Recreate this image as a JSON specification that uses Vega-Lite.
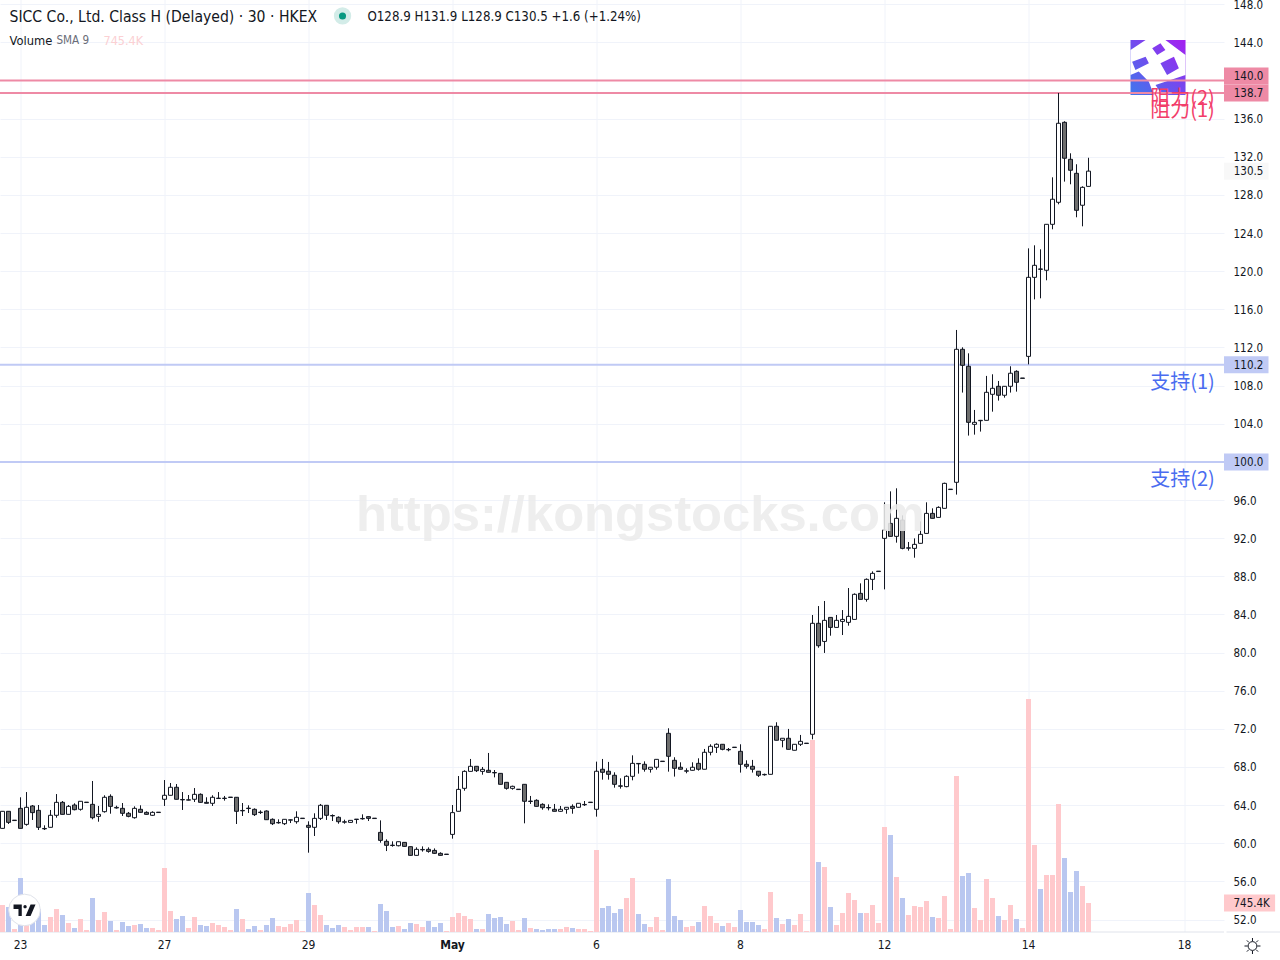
{"$schema":"https://vega.github.io/schema/vega-lite/v6.json","width":1224,"height":932,"autosize":"none","padding":{"left":0,"top":0,"right":56,"bottom":28},"background":"#ffffff","config":{"view":{"stroke":null},"font":"DejaVu Sans Condensed"},
"datasets":{"bars":[
{"i":0,"o":61.56,"h":63.35,"l":61.56,"c":63.35,"v":694,"d":"u"},{"i":1,"o":63.35,"h":63.35,"l":62.02,"c":62.19,"v":643,"d":"d"},{"i":2,"o":62.38,"h":62.42,"l":62.38,"c":62.42,"v":77,"d":"u"},{"i":3,"o":63.66,"h":64.82,"l":61.56,"c":61.56,"v":1388,"d":"d"},{"i":4,"o":61.98,"h":65.37,"l":61.84,"c":63.77,"v":180,"d":"u"},{"i":5,"o":63.91,"h":64.01,"l":62.44,"c":63.21,"v":437,"d":"d"},{"i":6,"o":63.45,"h":64.01,"l":61.39,"c":61.67,"v":591,"d":"d"},{"i":7,"o":61.55,"h":61.88,"l":61.39,"c":61.51,"v":180,"d":"d"},{"i":8,"o":61.67,"h":63.49,"l":61.67,"c":62.93,"v":386,"d":"u"},{"i":9,"o":62.93,"h":65.16,"l":62.68,"c":64.29,"v":591,"d":"u"},
{"i":10,"o":64.29,"h":64.43,"l":63.03,"c":63.03,"v":437,"d":"d"},{"i":11,"o":63.03,"h":64.01,"l":63.03,"c":63.87,"v":231,"d":"u"},{"i":12,"o":64.01,"h":64.19,"l":63.45,"c":63.52,"v":103,"d":"d"},{"i":13,"o":63.56,"h":64.4,"l":63.42,"c":64.4,"v":334,"d":"u"},{"i":14,"o":64.27,"h":64.31,"l":64.27,"c":64.31,"v":51,"d":"u"},{"i":15,"o":64.08,"h":66.53,"l":62.51,"c":62.68,"v":874,"d":"d"},{"i":16,"o":62.82,"h":63.91,"l":62.26,"c":63.03,"v":308,"d":"u"},{"i":17,"o":63.31,"h":65.03,"l":63.21,"c":64.82,"v":514,"d":"u"},{"i":18,"o":64.92,"h":65.13,"l":63.1,"c":63.87,"v":283,"d":"d"},{"i":19,"o":63.7,"h":63.94,"l":63.63,"c":63.76,"v":51,"d":"u"},
{"i":20,"o":63.66,"h":64.22,"l":62.86,"c":63.14,"v":257,"d":"d"},{"i":21,"o":63.14,"h":63.28,"l":62.72,"c":62.82,"v":154,"d":"d"},{"i":22,"o":62.68,"h":63.87,"l":62.58,"c":63.66,"v":180,"d":"u"},{"i":23,"o":63.56,"h":63.98,"l":63.21,"c":63.24,"v":206,"d":"d"},{"i":24,"o":63.24,"h":63.35,"l":63.0,"c":63.03,"v":103,"d":"d"},{"i":25,"o":62.93,"h":63.35,"l":62.86,"c":63.24,"v":103,"d":"u"},{"i":26,"o":63.22,"h":63.26,"l":63.22,"c":63.26,"v":51,"d":"u"},{"i":27,"o":64.61,"h":66.63,"l":63.91,"c":65.03,"v":1645,"d":"u"},{"i":28,"o":65.03,"h":66.32,"l":65.03,"c":65.87,"v":540,"d":"u"},{"i":29,"o":65.87,"h":66.21,"l":64.61,"c":64.61,"v":334,"d":"d"},
{"i":30,"o":64.59,"h":65.37,"l":63.49,"c":64.55,"v":411,"d":"d"},{"i":31,"o":64.52,"h":65.06,"l":64.5,"c":64.56,"v":103,"d":"u"},{"i":32,"o":64.61,"h":65.79,"l":64.33,"c":65.13,"v":386,"d":"u"},{"i":33,"o":65.13,"h":65.23,"l":64.26,"c":64.29,"v":180,"d":"d"},{"i":34,"o":64.29,"h":64.82,"l":64.19,"c":64.19,"v":154,"d":"d"},{"i":35,"o":64.19,"h":65.03,"l":63.91,"c":64.82,"v":231,"d":"u"},{"i":36,"o":64.69,"h":65.37,"l":64.68,"c":64.73,"v":180,"d":"u"},{"i":37,"o":64.69,"h":64.96,"l":64.47,"c":64.73,"v":129,"d":"u"},{"i":38,"o":64.8,"h":64.84,"l":64.8,"c":64.84,"v":51,"d":"u"},{"i":39,"o":64.82,"h":64.82,"l":62.02,"c":63.35,"v":591,"d":"d"},
{"i":40,"o":63.4,"h":64.22,"l":62.86,"c":63.44,"v":334,"d":"u"},{"i":41,"o":63.68,"h":63.98,"l":63.17,"c":63.64,"v":77,"d":"d"},{"i":42,"o":63.56,"h":63.66,"l":62.86,"c":63.0,"v":154,"d":"d"},{"i":43,"o":63.22,"h":63.45,"l":63.07,"c":63.26,"v":51,"d":"u"},{"i":44,"o":63.38,"h":63.45,"l":62.47,"c":62.47,"v":180,"d":"d"},{"i":45,"o":62.51,"h":62.61,"l":61.91,"c":62.05,"v":360,"d":"d"},{"i":46,"o":62.14,"h":62.51,"l":62.05,"c":62.18,"v":154,"d":"u"},{"i":47,"o":62.05,"h":62.51,"l":61.91,"c":62.51,"v":129,"d":"u"},{"i":48,"o":62.42,"h":62.51,"l":62.12,"c":62.46,"v":206,"d":"u"},{"i":49,"o":62.26,"h":63.35,"l":62.05,"c":62.72,"v":308,"d":"u"},
{"i":50,"o":62.59,"h":62.63,"l":62.59,"c":62.63,"v":26,"d":"u"},{"i":51,"o":61.88,"h":62.3,"l":59.01,"c":61.67,"v":1002,"d":"d"},{"i":52,"o":61.67,"h":63.14,"l":60.76,"c":62.61,"v":694,"d":"u"},{"i":53,"o":62.61,"h":64.12,"l":62.44,"c":63.98,"v":437,"d":"u"},{"i":54,"o":63.98,"h":63.98,"l":62.44,"c":62.93,"v":180,"d":"d"},{"i":55,"o":62.91,"h":63.03,"l":62.33,"c":62.87,"v":103,"d":"d"},{"i":56,"o":62.72,"h":62.82,"l":62.05,"c":62.26,"v":180,"d":"d"},{"i":57,"o":62.21,"h":62.47,"l":62.05,"c":62.25,"v":129,"d":"u"},{"i":58,"o":62.19,"h":62.4,"l":62.16,"c":62.4,"v":51,"d":"u"},{"i":59,"o":62.49,"h":62.53,"l":62.05,"c":62.53,"v":129,"d":"u"},
{"i":60,"o":62.56,"h":63.03,"l":62.47,"c":62.6,"v":129,"d":"u"},{"i":61,"o":62.79,"h":62.82,"l":62.33,"c":62.61,"v":129,"d":"d"},{"i":62,"o":62.59,"h":62.63,"l":62.59,"c":62.63,"v":26,"d":"u"},{"i":63,"o":61.14,"h":62.4,"l":60.06,"c":60.3,"v":720,"d":"d"},{"i":64,"o":60.2,"h":60.41,"l":59.18,"c":59.78,"v":540,"d":"d"},{"i":65,"o":59.8,"h":60.2,"l":59.64,"c":59.76,"v":129,"d":"d"},{"i":66,"o":59.74,"h":60.16,"l":59.67,"c":60.16,"v":154,"d":"u"},{"i":67,"o":60.09,"h":60.09,"l":59.64,"c":59.67,"v":77,"d":"d"},{"i":68,"o":59.64,"h":59.64,"l":58.7,"c":58.73,"v":231,"d":"d"},{"i":69,"o":58.73,"h":59.57,"l":58.7,"c":59.36,"v":206,"d":"u"},
{"i":70,"o":59.31,"h":59.67,"l":59.12,"c":59.35,"v":129,"d":"u"},{"i":71,"o":59.36,"h":59.57,"l":59.01,"c":59.15,"v":283,"d":"d"},{"i":72,"o":59.25,"h":59.46,"l":58.87,"c":58.94,"v":129,"d":"d"},{"i":73,"o":58.94,"h":59.05,"l":58.7,"c":58.73,"v":231,"d":"d"},{"i":74,"o":58.82,"h":58.86,"l":58.82,"c":58.86,"v":26,"d":"u"},{"i":75,"o":60.93,"h":64.01,"l":60.48,"c":63.21,"v":386,"d":"u"},{"i":76,"o":63.35,"h":67.05,"l":63.35,"c":65.65,"v":488,"d":"u"},{"i":77,"o":65.76,"h":67.65,"l":65.51,"c":67.54,"v":411,"d":"u"},{"i":78,"o":67.54,"h":68.84,"l":67.54,"c":68.07,"v":334,"d":"u"},{"i":79,"o":68.07,"h":68.07,"l":67.47,"c":67.61,"v":77,"d":"d"},
{"i":80,"o":67.54,"h":68.0,"l":67.19,"c":67.75,"v":77,"d":"u"},{"i":81,"o":67.65,"h":69.47,"l":67.44,"c":67.44,"v":463,"d":"d"},{"i":82,"o":67.42,"h":67.68,"l":66.91,"c":67.38,"v":360,"d":"d"},{"i":83,"o":67.33,"h":67.33,"l":66.18,"c":66.18,"v":386,"d":"d"},{"i":84,"o":66.39,"h":66.39,"l":65.62,"c":65.76,"v":206,"d":"d"},{"i":85,"o":65.76,"h":66.04,"l":65.62,"c":65.97,"v":283,"d":"u"},{"i":86,"o":65.63,"h":65.67,"l":65.63,"c":65.67,"v":51,"d":"u"},{"i":87,"o":66.18,"h":66.18,"l":62.09,"c":64.4,"v":360,"d":"d"},{"i":88,"o":64.38,"h":64.96,"l":64.12,"c":64.42,"v":103,"d":"u"},{"i":89,"o":64.5,"h":64.61,"l":63.87,"c":63.87,"v":77,"d":"d"},
{"i":90,"o":64.08,"h":64.19,"l":63.52,"c":63.73,"v":51,"d":"d"},{"i":91,"o":63.75,"h":64.08,"l":63.45,"c":63.71,"v":77,"d":"d"},{"i":92,"o":63.56,"h":64.12,"l":63.35,"c":63.35,"v":77,"d":"d"},{"i":93,"o":63.35,"h":63.91,"l":63.31,"c":63.56,"v":77,"d":"u"},{"i":94,"o":63.56,"h":63.77,"l":63.1,"c":63.77,"v":129,"d":"u"},{"i":95,"o":63.87,"h":64.08,"l":63.1,"c":63.66,"v":103,"d":"d"},{"i":96,"o":63.77,"h":64.19,"l":63.73,"c":64.19,"v":77,"d":"u"},{"i":97,"o":64.03,"h":64.43,"l":63.91,"c":64.07,"v":77,"d":"u"},{"i":98,"o":64.27,"h":64.31,"l":64.27,"c":64.31,"v":26,"d":"u"},{"i":99,"o":63.56,"h":68.56,"l":62.79,"c":67.55,"v":2107,"d":"u"},
{"i":100,"o":67.76,"h":68.84,"l":66.67,"c":67.44,"v":617,"d":"d"},{"i":101,"o":67.55,"h":68.53,"l":66.67,"c":67.23,"v":668,"d":"d"},{"i":102,"o":67.13,"h":67.44,"l":65.83,"c":66.18,"v":488,"d":"d"},{"i":103,"o":66.02,"h":66.81,"l":65.73,"c":65.98,"v":591,"d":"d"},{"i":104,"o":65.94,"h":67.13,"l":65.87,"c":67.02,"v":874,"d":"u"},{"i":105,"o":67.02,"h":69.22,"l":66.6,"c":68.38,"v":1388,"d":"u"},{"i":106,"o":68.37,"h":68.42,"l":67.3,"c":68.33,"v":463,"d":"d"},{"i":107,"o":68.28,"h":68.59,"l":67.51,"c":67.76,"v":206,"d":"d"},{"i":108,"o":67.76,"h":67.97,"l":67.41,"c":67.97,"v":129,"d":"u"},{"i":109,"o":67.97,"h":68.8,"l":67.72,"c":68.8,"v":386,"d":"u"},
{"i":110,"o":68.57,"h":68.61,"l":68.57,"c":68.61,"v":51,"d":"u"},{"i":111,"o":71.53,"h":72.06,"l":67.51,"c":69.12,"v":1362,"d":"d"},{"i":112,"o":68.7,"h":69.02,"l":66.99,"c":67.86,"v":411,"d":"d"},{"i":113,"o":67.97,"h":68.49,"l":67.76,"c":67.76,"v":308,"d":"d"},{"i":114,"o":67.56,"h":67.86,"l":67.34,"c":67.6,"v":129,"d":"u"},{"i":115,"o":67.65,"h":68.49,"l":67.62,"c":67.97,"v":154,"d":"u"},{"i":116,"o":68.38,"h":68.91,"l":67.62,"c":67.76,"v":257,"d":"d"},{"i":117,"o":67.76,"h":69.89,"l":67.76,"c":69.54,"v":668,"d":"u"},{"i":118,"o":69.54,"h":70.38,"l":69.22,"c":70.17,"v":411,"d":"u"},{"i":119,"o":70.06,"h":70.48,"l":69.47,"c":70.38,"v":231,"d":"u"},
{"i":120,"o":70.38,"h":70.38,"l":69.75,"c":69.85,"v":154,"d":"d"},{"i":121,"o":69.8,"h":69.99,"l":69.64,"c":69.84,"v":231,"d":"u"},{"i":122,"o":70.04,"h":70.08,"l":70.04,"c":70.08,"v":129,"d":"u"},{"i":123,"o":69.64,"h":70.38,"l":67.41,"c":68.28,"v":565,"d":"d"},{"i":124,"o":68.28,"h":68.7,"l":67.83,"c":68.07,"v":257,"d":"d"},{"i":125,"o":68.07,"h":68.74,"l":67.41,"c":67.76,"v":257,"d":"d"},{"i":126,"o":67.55,"h":67.55,"l":66.95,"c":67.13,"v":180,"d":"d"},{"i":127,"o":67.18,"h":67.3,"l":67.09,"c":67.22,"v":77,"d":"u"},{"i":128,"o":67.23,"h":72.27,"l":67.23,"c":72.27,"v":1028,"d":"u"},{"i":129,"o":72.27,"h":72.69,"l":70.8,"c":70.8,"v":360,"d":"d"},
{"i":130,"o":70.8,"h":71.01,"l":70.06,"c":71.01,"v":206,"d":"u"},{"i":131,"o":71.01,"h":71.99,"l":69.85,"c":69.85,"v":334,"d":"d"},{"i":132,"o":69.75,"h":70.38,"l":69.75,"c":70.38,"v":180,"d":"u"},{"i":133,"o":70.38,"h":71.36,"l":70.2,"c":70.69,"v":463,"d":"u"},{"i":134,"o":70.46,"h":70.5,"l":70.46,"c":70.5,"v":26,"d":"u"},{"i":135,"o":71.43,"h":83.94,"l":70.9,"c":83.07,"v":4934,"d":"u"},{"i":136,"o":83.07,"h":84.88,"l":80.51,"c":80.72,"v":1799,"d":"d"},{"i":137,"o":81.17,"h":85.41,"l":79.96,"c":83.38,"v":1671,"d":"u"},{"i":138,"o":83.69,"h":83.69,"l":81.77,"c":82.64,"v":643,"d":"d"},{"i":139,"o":82.64,"h":83.94,"l":82.64,"c":83.38,"v":180,"d":"u"},
{"i":140,"o":83.27,"h":84.46,"l":81.84,"c":83.48,"v":488,"d":"u"},{"i":141,"o":83.17,"h":86.77,"l":82.82,"c":83.8,"v":1002,"d":"u"},{"i":142,"o":83.48,"h":86.21,"l":83.48,"c":86.11,"v":822,"d":"u"},{"i":143,"o":86.21,"h":87.26,"l":85.58,"c":85.58,"v":488,"d":"d"},{"i":144,"o":85.58,"h":87.78,"l":85.34,"c":87.68,"v":488,"d":"u"},{"i":145,"o":87.68,"h":88.52,"l":86.56,"c":88.31,"v":694,"d":"u"},{"i":146,"o":88.5,"h":88.54,"l":88.5,"c":88.54,"v":231,"d":"u"},{"i":147,"o":91.98,"h":95.76,"l":86.63,"c":92.85,"v":2699,"d":"u"},{"i":148,"o":93.55,"h":96.91,"l":92.19,"c":92.19,"v":2493,"d":"d"},{"i":149,"o":92.19,"h":97.23,"l":91.53,"c":94.08,"v":1414,"d":"u"},
{"i":150,"o":93.9,"h":94.39,"l":90.83,"c":90.93,"v":874,"d":"d"},{"i":151,"o":90.95,"h":91.6,"l":90.69,"c":90.99,"v":437,"d":"u"},{"i":152,"o":90.93,"h":91.98,"l":89.95,"c":91.35,"v":668,"d":"u"},{"i":153,"o":91.46,"h":93.76,"l":91.46,"c":92.4,"v":643,"d":"u"},{"i":154,"o":92.5,"h":95.76,"l":92.5,"c":94.6,"v":797,"d":"u"},{"i":155,"o":94.6,"h":95.13,"l":94.08,"c":94.08,"v":386,"d":"d"},{"i":156,"o":94.18,"h":95.34,"l":94.18,"c":95.23,"v":360,"d":"u"},{"i":157,"o":95.13,"h":97.82,"l":95.13,"c":97.75,"v":925,"d":"u"},{"i":158,"o":97.1,"h":97.14,"l":97.1,"c":97.14,"v":77,"d":"u"},{"i":159,"o":97.86,"h":113.84,"l":96.57,"c":111.81,"v":4009,"d":"u"},
{"i":160,"o":111.81,"h":112.02,"l":107.27,"c":110.13,"v":1439,"d":"d"},{"i":161,"o":110.03,"h":111.39,"l":102.76,"c":104.15,"v":1516,"d":"d"},{"i":162,"o":103.94,"h":105.45,"l":102.86,"c":104.15,"v":617,"d":"u"},{"i":163,"o":104.32,"h":104.4,"l":103.18,"c":104.36,"v":308,"d":"u"},{"i":164,"o":104.36,"h":109.02,"l":104.36,"c":107.3,"v":1362,"d":"u"},{"i":165,"o":107.09,"h":109.19,"l":105.27,"c":107.72,"v":874,"d":"u"},{"i":166,"o":107.93,"h":108.49,"l":106.43,"c":106.99,"v":411,"d":"d"},{"i":167,"o":106.99,"h":107.93,"l":106.74,"c":107.93,"v":308,"d":"u"},{"i":168,"o":107.93,"h":110.03,"l":107.27,"c":109.3,"v":694,"d":"u"},{"i":169,"o":109.5,"h":109.61,"l":107.37,"c":108.35,"v":334,"d":"d"},
{"i":170,"o":108.76,"h":108.8,"l":108.76,"c":108.8,"v":103,"d":"u"},{"i":171,"o":111.07,"h":122.4,"l":110.23,"c":119.36,"v":5988,"d":"u"},{"i":172,"o":119.36,"h":122.72,"l":117.05,"c":120.62,"v":2236,"d":"u"},{"i":173,"o":120.24,"h":122.3,"l":117.16,"c":120.2,"v":1105,"d":"d"},{"i":174,"o":120.1,"h":124.92,"l":119.05,"c":124.92,"v":1465,"d":"u"},{"i":175,"o":124.92,"h":129.85,"l":124.4,"c":127.55,"v":1465,"d":"u"},{"i":176,"o":127.23,"h":138.7,"l":127.02,"c":135.52,"v":3290,"d":"u"},{"i":177,"o":135.62,"h":135.73,"l":129.4,"c":131.85,"v":1902,"d":"d"},{"i":178,"o":131.74,"h":132.37,"l":129.12,"c":130.59,"v":1028,"d":"d"},{"i":179,"o":130.27,"h":131.22,"l":125.66,"c":126.39,"v":1568,"d":"d"},
{"i":180,"o":126.92,"h":128.91,"l":124.71,"c":128.8,"v":1182,"d":"u"},{"i":181,"o":128.9,"h":131.9,"l":128.9,"c":130.5,"v":745.4,"d":"u"}],
"levels":[{"i":0,"c":140.0,"v":0,"kind":"r","name":"阻力(2)"},{"i":0,"c":138.7,"v":0,"kind":"r","name":"阻力(1)"},{"i":0,"c":110.2,"v":0,"kind":"s","name":"支持(1)"},{"i":0,"c":100.0,"v":0,"kind":"s","name":"支持(2)"}]},
"data":{"name":"bars"},
"encoding":{"x":{"field":"i","type":"quantitative","title":null,"scale":{"domain":[-0.4167,203.5833],"nice":false,"zero":false,"padding":0},"axis":{"values":[3,27,51,75,99,123,147,171,197],"translate":0,"labelExpr":"datum.value==3?'23':datum.value==27?'27':datum.value==51?'29':datum.value==75?'May':datum.value==99?'6':datum.value==123?'8':datum.value==147?'12':datum.value==171?'14':'18'","ticks":false,"grid":true,"gridColor":"#f0f3fa","gridWidth":1,"domainColor":"#e0e3eb","domainWidth":1,"labelPadding":8,"labelFontSize":12,"labelColor":"#131722","labelFont":"DejaVu Sans Condensed","labelFontWeight":{"condition":{"test":"datum.value==75","value":"bold"},"value":"normal"}}}},
"resolve":{"scale":{"y":"independent"}},
"layer":[
{"encoding":{"y":{"field":"v","type":"quantitative","title":null,"scale":{"domain":[0,23952],"nice":false,"zero":true,"padding":0},"axis":null}},
"layer":[
{"mark":{"type":"bar","size":5},"encoding":{"color":{"condition":{"test":"datum.d=='u'","value":"#ffc9cc"},"value":"#b9c7f0"}}},
{"transform":[{"filter":"datum.i==181"}],"mark":{"type":"bar","orient":"horizontal","size":17,"color":"#ffc9cc"},"encoding":{"x":{"datum":203.5833},"x2":{"datum":212.1}}},
{"transform":[{"filter":"datum.i==181"}],"mark":{"type":"text","fontSize":11.5,"dy":1,"color":"#131722","align":"center","baseline":"middle"},"encoding":{"x":{"datum":208.2},"text":{"value":"745.4K"}}}
]},
{"encoding":{"y":{"field":"c","type":"quantitative","title":null,"scale":{"domain":[50.69,148.45],"nice":false,"zero":false,"padding":0},"axis":{"orient":"right","values":[52,56,60,64,68,72,76,80,84,88,92,96,104,108,112,116,120,124,128,132,136,144,148],"format":".1f","ticks":false,"domain":false,"grid":true,"gridColor":"#f0f3fa","gridWidth":1,"labelPadding":9,"labelOffset":1,"labelFontSize":11.5,"labelColor":"#131722","labelFont":"DejaVu Sans Condensed","labelBound":false,"labelOverlap":false,"labelFlush":false}}},
"layer":[
{"transform":[{"filter":"datum.i==181"}],"mark":{"type":"rect","color":{"gradient":"linear","x1":0,"y1":1,"x2":1,"y2":0,"stops":[{"offset":0,"color":"#3f78ec"},{"offset":1,"color":"#a51ff0"}]}},"encoding":{"x":{"datum":188},"x2":{"datum":197.17},"y":{"datum":144.26},"y2":{"datum":138.49}}},
{"transform":[{"filter":"datum.i==181"}],"mark":{"type":"point","filled":true,"color":"#ffffff","opacity":1,"size":3025,"shape":"M-1 -1L1 -1L1 1L-1 1ZM-1 -1L-1 -0.64L-0.45 -1ZM-0.21 -0.7L-0.03 -0.45L0.27 -0.64L0.09 -0.88ZM0.27 -1L1 -0.45L1 -1ZM-0.94 -0.21L-0.82 0.09L-0.33 -0.15L-0.45 -0.39ZM0.09 -0.15L0.33 0.27L0.76 0.03L0.58 -0.39ZM-1 0.27L-1 1L-0.15 1L-0.33 0.52L-0.7 0.15ZM-0.09 0.64L0.15 1L1 1L1 0.27Z"},"encoding":{"x":{"datum":192.58},"y":{"datum":141.37}}},
{"data":{"name":"levels"},"mark":{"type":"rule","strokeWidth":2},"encoding":{"x":{"datum":-0.4167},"x2":{"datum":203.5833},"color":{"condition":{"test":"datum.kind=='r'","value":"#ee8aa5"},"value":"#c0caf5"}}},
{"mark":{"type":"rule","strokeWidth":1,"color":"#131722"},"encoding":{"y":{"field":"h","type":"quantitative"},"y2":{"field":"l"}}},
{"mark":{"type":"bar","size":4,"stroke":"#131722","strokeWidth":1,"orient":"vertical"},"encoding":{"y":{"field":"o","type":"quantitative"},"y2":{"field":"c"},"color":{"condition":{"test":"datum.d=='u'","value":"#ffffff"},"value":"#6e6e6e"}}},
{"transform":[{"filter":"datum.i==181"}],"mark":{"type":"text","font":"Liberation Sans","fontWeight":"bold","fontSize":50.7,"color":"#ececec","opacity":0.88,"align":"center","baseline":"middle"},"encoding":{"x":{"datum":106.33},"y":{"datum":94.3},"text":{"value":"https://kongstocks.com"}}},
{"data":{"name":"levels"},"mark":{"type":"text","fontSize":20,"align":"center","baseline":"middle","dy":18,"font":"Noto Sans CJK SC"},"encoding":{"x":{"datum":196.67},"text":{"field":"name"},"color":{"condition":{"test":"datum.kind=='r'","value":"#f23d6a"},"value":"#4a6cf0"}}},
{"data":{"name":"levels"},"transform":[{"filter":"datum.c!=140"}],"mark":{"type":"bar","orient":"horizontal","size":17},"encoding":{"x":{"datum":203.5833},"x2":{"datum":211},"color":{"condition":{"test":"datum.kind=='r'","value":"#ee8aa5"},"value":"#c0caf5"}}},
{"data":{"name":"levels"},"transform":[{"filter":"datum.c!=140"}],"mark":{"type":"text","fontSize":11.5,"dy":1,"color":"#131722","align":"center","baseline":"middle"},"encoding":{"x":{"datum":207.67},"text":{"field":"c","type":"quantitative","format":".1f"}}},
{"data":{"name":"levels"},"transform":[{"filter":"datum.c==140"}],"mark":{"type":"bar","orient":"horizontal","size":17,"yOffset":-4.5,"color":"#ee8aa5"},"encoding":{"x":{"datum":203.5833},"x2":{"datum":211}}},
{"data":{"name":"levels"},"transform":[{"filter":"datum.c==140"}],"mark":{"type":"text","fontSize":11.5,"dy":1,"color":"#131722","align":"center","baseline":"middle","yOffset":-4.5},"encoding":{"x":{"datum":207.67},"text":{"field":"c","type":"quantitative","format":".1f"}}},
{"transform":[{"filter":"datum.i==181"}],"mark":{"type":"bar","orient":"horizontal","size":17,"color":"#f8f8f8"},"encoding":{"x":{"datum":203.5833},"x2":{"datum":211}}},
{"transform":[{"filter":"datum.i==181"}],"mark":{"type":"text","fontSize":11.5,"dy":1,"color":"#131722","align":"center","baseline":"middle"},"encoding":{"x":{"datum":207.67},"text":{"field":"c","type":"quantitative","format":".1f"}}},
{"transform":[{"filter":"datum.i==181"}],"mark":{"type":"rule","color":"#e0e3eb","strokeWidth":1},"encoding":{"x":{"datum":204},"x2":{"datum":213},"y":{"datum":50.69}}},
{"transform":[{"filter":"datum.i==181"}],"mark":{"type":"text","fontSize":15.6,"dy":1,"color":"#131722","align":"left","baseline":"middle"},"encoding":{"x":{"datum":1.17},"y":{"datum":146.78},"text":{"value":"SICC Co., Ltd. Class H (Delayed) · 30 · HKEX"}}},
{"transform":[{"filter":"datum.i==181"}],"mark":{"type":"point","filled":true,"color":"#d3ece8","opacity":1,"size":300,"shape":"circle"},"encoding":{"x":{"datum":56.67},"y":{"datum":146.78}}},
{"transform":[{"filter":"datum.i==181"}],"mark":{"type":"point","filled":true,"color":"#089981","opacity":1,"size":50,"shape":"circle"},"encoding":{"x":{"datum":56.67},"y":{"datum":146.78}}},
{"transform":[{"filter":"datum.i==181"}],"mark":{"type":"text","fontSize":13.2,"dy":1,"color":"#131722","align":"left","baseline":"middle"},"encoding":{"x":{"datum":60.83},"y":{"datum":146.78},"text":{"value":"O128.9  H131.9  L128.9  C130.5  +1.6 (+1.24%)"}}},
{"transform":[{"filter":"datum.i==181"}],"mark":{"type":"text","fontSize":12.8,"dy":1,"color":"#131722","align":"left","baseline":"middle"},"encoding":{"x":{"datum":1.17},"y":{"datum":144.26},"text":{"value":"Volume"}}},
{"transform":[{"filter":"datum.i==181"}],"mark":{"type":"text","fontSize":11.6,"dy":1,"color":"#6a6d78","align":"left","baseline":"middle"},"encoding":{"x":{"datum":9},"y":{"datum":144.26},"text":{"value":"SMA 9"}}},
{"transform":[{"filter":"datum.i==181"}],"mark":{"type":"text","fontSize":12.5,"dy":1,"color":"#fbd0d3","align":"left","baseline":"middle"},"encoding":{"x":{"datum":16.83},"y":{"datum":144.26},"text":{"value":"745.4K"}}},
{"transform":[{"filter":"datum.i==181"}],"mark":{"type":"point","filled":true,"fill":"#ffffff","stroke":"#e0e3eb","strokeWidth":1,"opacity":1,"size":1000,"shape":"circle"},"encoding":{"x":{"datum":3.67},"y":{"datum":53.0}}},
{"transform":[{"filter":"datum.i==181"}],"mark":{"type":"point","filled":true,"color":"#131722","opacity":1,"size":484,"shape":"M-1 -0.5L-0.25 -0.5L-0.25 0.55L-0.55 0.55L-0.55 -0.1L-1 -0.1ZM-0.1 -0.3a0.15 0.15 0 1 0 0.3 0a0.15 0.15 0 1 0 -0.3 0ZM0.55 -0.5L1 -0.5L0.55 0.55L0.1 0.55Z"},"encoding":{"x":{"datum":3.67},"y":{"datum":53.0}}},
{"transform":[{"filter":"datum.i==181"}],"mark":{"type":"point","filled":false,"color":"#131722","strokeWidth":1,"opacity":1,"size":256,"shape":"M0.55 0a0.55 0.55 0 1 0 -1.1 0a0.55 0.55 0 1 0 1.1 0ZM0 -0.6L0 -1M0 0.6L0 1M-0.6 0L-1 0M0.6 0L1 0M0.45 0.45L0.7 0.7M-0.45 -0.45L-0.7 -0.7M0.45 -0.45L0.7 -0.7M-0.45 0.45L-0.7 0.7"},"encoding":{"x":{"datum":208.33},"y":{"datum":49.22}}}
]}
]}
